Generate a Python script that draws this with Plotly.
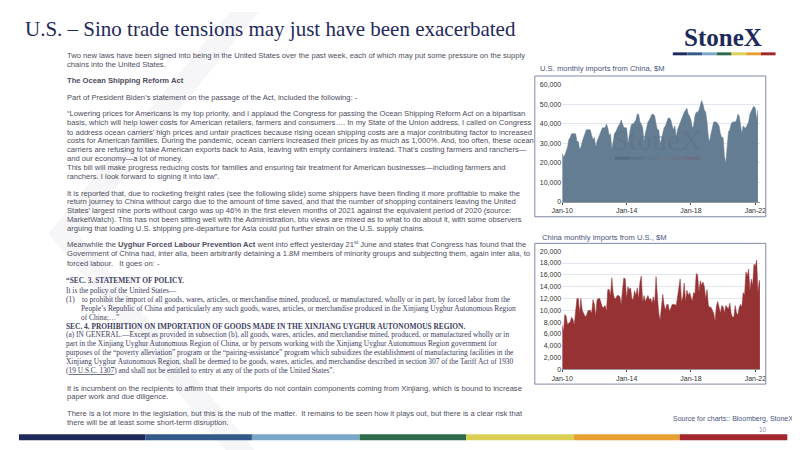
import plotly.graph_objects as go
import pandas as pd

us_from_china = [25,23,24,26,28,32,33,35,35,35,35,31,
 31,27,28,31,33,35,37,37,37,37,34,32,
 33,28,31,33,35,36,38,38,38,40,38,34,
 35,27,31,35,36,38,39,40,42,40,38,38,
 38,30,34,38,40,40,41,42,45,45,41,40,
 38,31,35,38,41,42,44,45,45,44,40,37,
 37,30,32,35,38,39,41,43,43,42,39,37,
 39,33,37,39,41,42,45,46,47,48,45,44,
 42,38,39,44,46,46,47,49,52,50,47,46,
 41,33,31,35,38,41,41,41,40,39,35,33,
 33,23,20,31,36,37,40,41,41,41,42,45,
 44,40,35,39,38,38,40,41,45,47,48,49,
 48,42,47]
china_from_us = [7.5,6.5,9.3,9,7.6,7.8,8,8.8,8.5,7.5,9.5,12,
 12,9.5,12,10,9.5,9,9,9.8,10,10,9.5,11.8,
 11,9,11.8,12,12,11,10.5,10.5,10.8,9.8,13.5,13.5,
 12.5,15.5,13,12,12,12.5,12.5,12.3,11,13.5,15.5,15.3,
 12,14,13.5,13.8,12,11.8,13.3,12.5,13.8,12,14.8,15.8,
 11.3,12.5,11.5,12,12.5,11.8,12,11.2,12.3,11.2,15.7,12.5,
 9.5,8.3,10.8,12.7,11,10,11,11,9.8,10.5,11,11,
 11,10.8,12.2,14.2,15.3,11.5,12.2,14.6,11.5,13.4,12.5,13,
 12.4,11.5,13,12.8,16.2,16,13,15,14.2,14.8,14,12,
 13.5,10.8,10.5,10.5,10,9.5,8.1,10.7,11.5,10.6,9.5,10.8,
 10.6,9.5,10.8,10.5,10.2,11.2,9.5,8.8,8.9,10.8,9.5,9.2,
 10.5,11,10.5,13,12.5,16.5,15.8,17,13.3,15.3,14.2,17.8,
 17.5,18.5,13,15.1,14]
us_dates = pd.date_range("2010-01-01", periods=len(us_from_china), freq="MS")
cn_dates = pd.date_range("2010-01-01", periods=len(china_from_us), freq="MS")
us_vals = [v*1000 for v in us_from_china]
cn_vals = [v*1000 for v in china_from_us]
tick_dates = ["2010-01-01","2014-01-01","2018-01-01","2022-01-01"]
tick_labels = ["Jan-10","Jan-14","Jan-18","Jan-22"]

W, H = 800, 450
def px(x): return x/W
def py(y): return 1-y/H

fig = go.Figure()
fig.add_trace(go.Scatter(x=us_dates, y=us_vals, fill="tozeroy", mode="lines",
    line=dict(color="#647d93", width=0.5), fillcolor="#647d93", xaxis="x", yaxis="y", hoverinfo="skip"))
fig.add_trace(go.Scatter(x=cn_dates, y=cn_vals, fill="tozeroy", mode="lines",
    line=dict(color="#963234", width=0.5), fillcolor="#963234", xaxis="x2", yaxis="y2", hoverinfo="skip"))

xr = ["2010-01-01","2022-04-15"]
axfont = dict(family="Liberation Sans", size=7, color="#333")
fig.update_layout(
    width=W, height=H, margin=dict(l=0,r=0,t=0,b=0), showlegend=False,
    paper_bgcolor="white", plot_bgcolor="white",
    xaxis=dict(domain=[px(555),px(757)], range=xr, anchor="y", tickvals=tick_dates, ticktext=tick_labels,
               tickfont=axfont, showgrid=False, ticks="outside", ticklen=2, showline=True, linecolor="#999"),
    yaxis=dict(domain=[py(193),py(74)], range=[0,60000], dtick=10000, tickformat=",", tickfont=axfont,
               anchor="x", gridcolor="#e4e6ef", zeroline=False),
    xaxis2=dict(domain=[px(555),px(757)], range=xr, anchor="y2", tickvals=tick_dates, ticktext=tick_labels,
               tickfont=axfont, showgrid=False, ticks="outside", ticklen=2, showline=True, linecolor="#999"),
    yaxis2=dict(domain=[py(363),py(243)], range=[0,20000], dtick=2000, tickformat=",", tickfont=axfont,
               anchor="x2", gridcolor="#e4e6ef", zeroline=False),
)

shapes = []
shapes.append(dict(type="path", xref="paper", yref="paper", layer="below",
    path=f"M {px(215)} {py(0)} L {px(245)} {py(0)} L {px(60)} {py(225)} L {px(245)} {py(450)} L {px(215)} {py(450)} L {px(30)} {py(225)} Z",
    fillcolor="#f6f6f8", line=dict(width=0)))
for y0, y1 in [(65,208),(235,378)]:
    shapes.append(dict(type="rect", xref="paper", yref="paper", x0=px(527), x1=px(763), y0=py(y1), y1=py(y0),
                       line=dict(color="#8088a8", width=1), fillcolor="rgba(0,0,0,0)"))
bar = [(0,129,"#1f2a5c"),(129,238,"#34588a"),(238,348,"#7aa6c8"),(348,457,"#2e6b4a"),
       (457,567,"#dccf55"),(567,675,"#e8a032"),(675,785,"#a3282e")]
for a,b,c in bar:
    shapes.append(dict(type="rect", xref="paper", yref="paper", x0=px(a), x1=px(b), y0=py(435), y1=py(429),
                       line=dict(width=0), fillcolor=c))
logo = ["#1f2a5c","#34588a","#7aa6c8","#2e6b4a","#dccf55","#e8a032","#a3282e"]
for i,c in enumerate(logo):
    x0 = 668 + i*15
    shapes.append(dict(type="rect", xref="paper", yref="paper", x0=px(x0), x1=px(x0+15), y0=py(44), y1=py(41),
                       line=dict(width=0), fillcolor=c))
wm = ["#4f6478","#56708a","#5d7890","#6a7c8c","#6c7382","#6e6a80"]
for i,c in enumerate(wm):
    x0 = 609 + i*14.5
    shapes.append(dict(type="rect", xref="paper", yref="paper", x0=px(x0), x1=px(x0+14.5), y0=py(150), y1=py(147),
                       line=dict(width=0), fillcolor=c, opacity=0.7))
fig.update_layout(shapes=shapes)

ann = []
def T(x, y, text, size=7.6, color="#4d4d5c", family="Liberation Sans", anchor="left"):
    ann.append(dict(x=px(x), y=py(y), xref="paper", yref="paper", text=text, showarrow=False,
                    xanchor=anchor, yanchor="middle", font=dict(size=size, color=color, family=family)))

T(4, 17, "U.S. – Sino trade tensions may just have been exacerbated", size=21, color="#1f2a5c", family="Liberation Serif")
T(719, 26, "<b>StoneX</b>", size=25, color="#1f2a5c", family="Liberation Serif", anchor="center")
T(652, 130, "StoneX", size=30, color="rgba(95,110,130,0.45)", family="Liberation Serif", anchor="center")

L = 47
body = [
 (44, "Two new laws have been signed into being in the United States over the past week, each of which may put some pressure on the supply"),
 (53, "chains into the United States."),
 (70, "<b>The Ocean Shipping Reform Act</b>"),
 (87, "Part of President Biden’s statement on the passage of the Act, included the following: -"),
 (103, "“Lowering prices for Americans is my top priority, and I applaud the Congress for passing the Ocean Shipping Reform Act on a bipartisan"),
 (112, "basis, which will help lower costs for American retailers, farmers and consumers…. In my State of the Union address, I called on Congress"),
 (122, "to address ocean carriers’ high prices and unfair practices because rising ocean shipping costs are a major contributing factor to increased"),
 (131, "costs for American families. During the pandemic, ocean carriers increased their prices by as much as 1,000%. And, too often, these ocean"),
 (140, "carriers are refusing to take American exports back to Asia, leaving with empty containers instead. That’s costing farmers and ranchers—"),
 (149, "and our economy—a lot of money."),
 (158, "This bill will make progress reducing costs for families and ensuring fair treatment for American businesses—including farmers and"),
 (167, "ranchers. I look forward to signing it into law”."),
 (184, "It is reported that, due to rocketing freight rates (see the following slide) some shippers have been finding it more profitable to make the"),
 (193, "return journey to China without cargo due to the amount of time saved, and that the number of shopping containers leaving the United"),
 (202, "States’ largest nine ports without cargo was up 46% in the first eleven months of 2021 against the equivalent period of 2020 (source:"),
 (211, "MarketWatch). This has not been sitting well with the Administration, btu views are mixed as to what to do about it, with some observers"),
 (220, "arguing that loading U.S. shipping pre-departure for Asia could put further strain on the U.S. supply chains."),
 (236, "Meanwhile the <b>Uyghur Forced Labour Prevention Act</b> went into effect yesterday 21<sup>st</sup> June and states that Congress has found that the"),
 (245, "Government of China had, inter alia, been arbitrarily detaining a 1.8M members of minority groups and subjecting them, again inter alia, to"),
 (255, "forced labour.   It goes on: -"),
 (382, "It is incumbent on the recipients to affirm that their imports do not contain components coming from Xinjiang, which is bound to increase"),
 (391, "paper work and due diligence."),
 (408, "There is a lot more in the legislation, but this is the nub of the matter.  It remains to be seen how it plays out, but there is a clear risk that"),
 (417, "there will be at least some short-term disruption."),
]
for y, t in body:
    T(L, y, t)

serif = [
 (46, 273, "<b>“SEC. 3. STATEMENT OF POLICY.</b>"),
 (46, 283, "It is the policy of the United States—"),
 (46, 292, "(1)    to prohibit the import of all goods, wares, articles, or merchandise mined, produced, or manufactured, wholly or in part, by forced labor from the"),
 (61, 301, "People’s Republic of China and particularly any such goods, wares, articles, or merchandise produced in the Xinjiang Uyghur Autonomous Region"),
 (61, 310, "of China;…”"),
 (46, 319, "<b>SEC. 4. PROHIBITION ON IMPORTATION OF GOODS MADE IN THE XINJIANG UYGHUR AUTONOMOUS REGION.</b>"),
 (46, 328, "(a) IN GENERAL.—Except as provided in subsection (b), all goods, wares, articles, and merchandise mined, produced, or manufactured wholly or in"),
 (46, 337, "part in the Xinjiang Uyghur Autonomous Region of China, or by persons working with the Xinjiang Uyghur Autonomous Region government for"),
 (46, 346, "purposes of the “poverty alleviation” program or the “pairing-assistance” program which subsidizes the establishment of manufacturing facilities in the"),
 (46, 355, "Xinjiang Uyghur Autonomous Region, shall be deemed to be goods, wares, articles, and merchandise described in section 307 of the Tariff Act of 1930"),
 (46, 364, "(<u>19 U.S.C. 1307</u>) and shall not be entitled to entry at any of the ports of the United States”."),
]
for x, y, t in serif:
    T(x, y, t, size=7.4, color="#3c4060", family="Liberation Serif")

T(530, 57, "U.S. monthly imports from China, $M", size=7.6, color="#4a5580")
T(532, 229, "China monthly imports from U.S., $M", size=7.6, color="#4a5580")
T(793, 413, "Source for charts:: Bloomberg, StoneX", size=7, color="#4a5580", anchor="right")
T(766, 424, "10", size=6.5, color="#8890a8", anchor="right")
fig.update_layout(annotations=ann)

fig.write_html("out.html")
